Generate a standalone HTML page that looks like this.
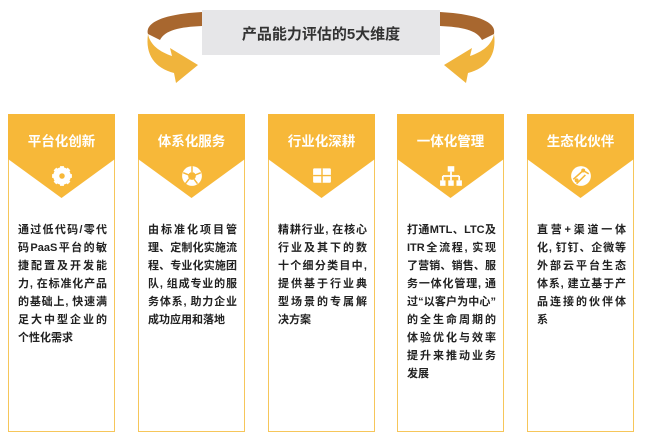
<!DOCTYPE html>
<html><head><meta charset="utf-8"><style>
body{margin:0;width:650px;height:446px;background:#fff;position:relative;overflow:hidden;font-family:"Liberation Sans","Noto Sans CJK SC",sans-serif}
.card{position:absolute;top:114px;width:107px;height:318px;border:1.5px solid #f6c65a;box-sizing:border-box;background:#fff}
.hd{position:absolute;left:-1px;top:-1px}
.t{position:absolute;left:0;width:100%;top:15px;text-align:center;color:#fff;font-size:13.5px;font-weight:bold}
.ic{position:absolute;left:0;width:100%;top:50px;text-align:center}
.tx{position:absolute;left:9px;width:89px;top:106px;font-size:11px;line-height:18px;color:#222;font-weight:bold}
.tx div{text-align:justify;text-align-last:justify;white-space:nowrap;height:18px;overflow:visible}
.tx div.l{text-align-last:left}
</style></head><body>
<svg width="650" height="90" style="position:absolute;left:0;top:0">
<path d="M202 12 C165 14 145 22 148 34 L160 40 C165 30 180 27 202 26Z" fill="#a8672f"/>
<path d="M148 34 C150 45 160 52 172 56 L170 48 L198 65 L176 83 L174 73 C155 68 145 55 148 34Z" fill="#f0b43c"/>
<path d="M440 12 C477 14 497 22 494 34 L482 40 C477 30 462 27 440 26Z" fill="#a8672f"/>
<path d="M494 34 C492 45 482 52 470 56 L472 48 L444 65 L466 83 L468 73 C487 68 497 55 494 34Z" fill="#f0b43c"/>
<rect x="202" y="10" width="238" height="45" fill="#e6e6e8"/>
<text x="321" y="39" text-anchor="middle" font-size="15" font-weight="bold" fill="#333" font-family="Liberation Sans,Noto Sans CJK SC,sans-serif">产品能力评估的5大维度</text>
</svg>

<div class="card" style="left:8px"><svg class="hd" width="107" height="86"><path d="M0 0H107V45L53.5 84L0 45Z" fill="#f7b839"/></svg><div class="t">平台化创新</div>
<div class="ic"><svg width="22" height="22" viewBox="0 0 20 20"><circle cx="10" cy="10" r="6" fill="none" stroke="#fff" stroke-width="4"/><g stroke="#fff" stroke-width="3.5"><path d="M10 1v18M1 10h18M3.6 3.6l12.8 12.8M16.4 3.6L3.6 16.4"/></g><circle cx="10" cy="10" r="2.5" fill="#f7b839"/></svg></div>
<div class="tx"><div>通过低代码/零代</div><div>码PaaS平台的敏</div><div>捷配置及开发能</div><div>力, 在标准化产品</div><div>的基础上, 快速满</div><div>足大中型企业的</div><div class="l">个性化需求</div></div></div>

<div class="card" style="left:138px"><svg class="hd" width="107" height="86"><path d="M0 0H107V45L53.5 84L0 45Z" fill="#f7b839"/></svg><div class="t">体系化服务</div>
<div class="ic"><svg width="22" height="22" viewBox="0 0 20 20"><circle cx="10" cy="10" r="9" fill="#fff"/><circle cx="10" cy="10" r="3.5" fill="#f7b839"/><path d="M10 1L10 6.5M18 7L13 9M15 17L12 13M4 17L7.5 12.5M2 7L7 9" stroke="#f7b839" stroke-width="1.3"/></svg></div>
<div class="tx"><div>由标准化项目管</div><div>理、定制化实施流</div><div>程、专业化实施团</div><div>队, 组成专业的服</div><div>务体系, 助力企业</div><div class="l">成功应用和落地</div></div></div>

<div class="card" style="left:268px"><svg class="hd" width="107" height="86"><path d="M0 0H107V45L53.5 84L0 45Z" fill="#f7b839"/></svg><div class="t">行业化深耕</div>
<div class="ic"><svg width="20" height="20" viewBox="0 0 18 18"><rect x="1" y="3" width="16" height="13" rx="1" fill="#fff"/><path d="M1 9.5H17M9 3V16" stroke="#f7b839" stroke-width="1.3"/></svg></div>
<div class="tx"><div>精耕行业, 在核心</div><div>行业及其下的数</div><div>十个细分类目中,</div><div>提供基于行业典</div><div>型场景的专属解</div><div class="l">决方案</div></div></div>

<div class="card" style="left:397px"><svg class="hd" width="107" height="86"><path d="M0 0H107V45L53.5 84L0 45Z" fill="#f7b839"/></svg><div class="t">一体化管理</div>
<div class="ic"><svg width="24" height="22" viewBox="0 0 22 20"><rect x="8" y="1" width="6" height="5" fill="#fff"/><path d="M11 6v4M3.5 10h15M3.5 10v4M11 10v4M18.5 10v4" stroke="#fff" stroke-width="1.6" fill="none"/><rect x="1" y="14" width="5" height="5" fill="#fff"/><rect x="8.5" y="14" width="5" height="5" fill="#fff"/><rect x="16" y="14" width="5" height="5" fill="#fff"/></svg></div>
<div class="tx"><div>打通MTL、LTC及</div><div>ITR全流程, 实现</div><div>了营销、销售、服</div><div>务一体化管理, 通</div><div>过“以客户为中心”</div><div>的全生命周期的</div><div>体验优化与效率</div><div>提升来推动业务</div><div class="l">发展</div></div></div>

<div class="card" style="left:527px"><svg class="hd" width="107" height="86"><path d="M0 0H107V45L53.5 84L0 45Z" fill="#f7b839"/></svg><div class="t">生态化伙伴</div>
<div class="ic"><svg width="22" height="22" viewBox="0 0 20 20"><circle cx="10" cy="10" r="9" fill="#fff"/><path d="M3 13L12 5M6 17L14 9M12 5L17 8" stroke="#f7b839" stroke-width="1.4"/><circle cx="12" cy="5" r="1.8" fill="#f7b839"/><circle cx="6" cy="14" r="1.8" fill="#f7b839"/></svg></div>
<div class="tx"><div>直营+渠道一体</div><div>化, 钉钉、企微等</div><div>外部云平台生态</div><div>体系, 建立基于产</div><div>品连接的伙伴体</div><div class="l">系</div></div></div>
</body></html>
